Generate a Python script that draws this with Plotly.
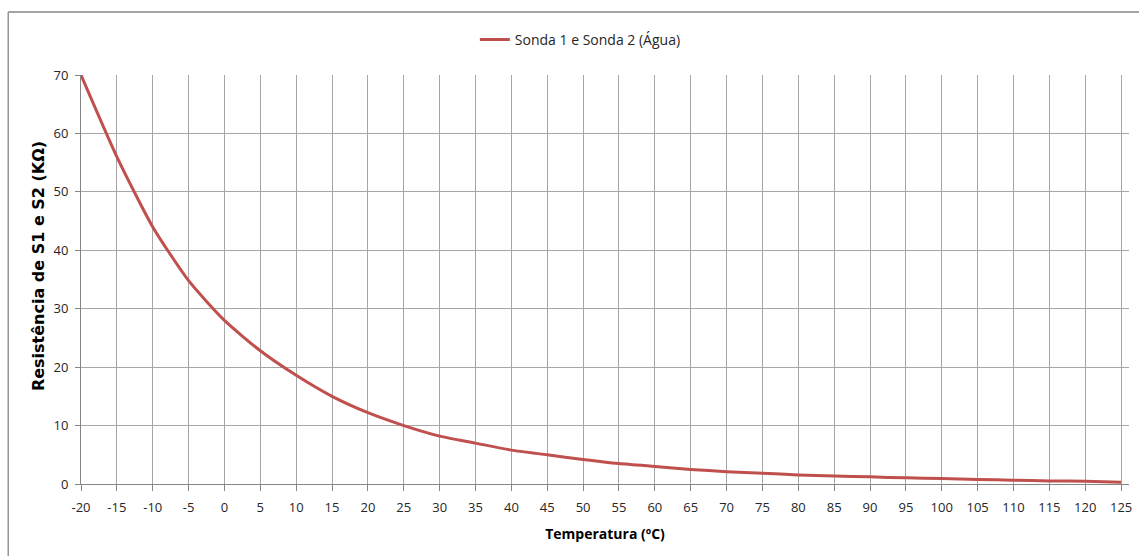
import plotly.graph_objects as go

temperatura = [-20, -15, -10, -5, 0, 5, 10, 15, 20, 25, 30, 35, 40, 45, 50,
               55, 60, 65, 70, 75, 80, 85, 90, 95, 100, 105, 110, 115, 120, 125]
resistencia = [70.0, 56.0, 44.0, 34.8, 28.0, 22.8, 18.6, 15.0, 12.2, 10.0,
               8.2, 7.0, 5.8, 5.0, 4.2, 3.5, 3.0, 2.5, 2.1, 1.85,
               1.55, 1.37, 1.22, 1.05, 0.92, 0.78, 0.66, 0.52, 0.48, 0.32]
x_ticks = list(range(-20, 126, 5))
y_ticks = list(range(0, 71, 10))
serie_nome = "Sonda 1 e Sonda 2 (Água)"
titulo_x = "Temperatura (ºC)"
titulo_y = "Resistência de S1 e S2 (KΩ)"

W, H = 1139, 556
PL, PR, PT, PB = 81, 1132, 75, 484  # plot area in screen pixels
L, R, T, B = PL, W - PR, PT, H - PB

FONT = "'Open Sans', sans-serif"
GRID = "#a6a6a6"
AXIS = "#868686"
TXT = "#262626"

fig = go.Figure()
fig.add_trace(go.Scatter(
    x=temperatura, y=resistencia, mode="lines", name=serie_nome,
    line=dict(color="#C0504D", width=3, shape="spline", smoothing=0.6),
))

def px_x(p):
    return (p - PL) / (PR - PL)

def px_y(p):
    return (PB - p) / (PB - PT)

# chart-area border (top and left edges visible in the reference)
fig.add_shape(type="line", xref="paper", yref="paper",
              x0=px_x(8), x1=px_x(1300), y0=px_y(12), y1=px_y(12),
              line=dict(color=AXIS, width=1.3))
fig.add_shape(type="line", xref="paper", yref="paper",
              x0=px_x(8), x1=px_x(8), y0=px_y(12), y1=px_y(700),
              line=dict(color=AXIS, width=1.3))

fig.add_annotation(xref="paper", yref="paper", x=px_x(38), y=px_y(266),
                   text="<b>" + titulo_y + "</b>", textangle=-90, showarrow=False,
                   xanchor="center", yanchor="middle",
                   font=dict(family="'DejaVu Sans', sans-serif", size=16, color="#000000"))

fig.update_layout(
    width=W, height=H,
    margin=dict(l=L, r=R, t=T, b=B),
    paper_bgcolor="white", plot_bgcolor="white",
    font=dict(family=FONT, size=13, color=TXT),
    showlegend=True,
    legend=dict(orientation="h", x=px_x(476), xanchor="left", y=px_y(40), yanchor="middle",
                font=dict(family=FONT, size=14, color=TXT),
                bgcolor="rgba(0,0,0,0)"),
    xaxis=dict(
        range=[-20, 126.1], tickmode="array", tickvals=x_ticks,
        ticktext=[str(v) for v in x_ticks],
        showgrid=True, gridcolor=GRID, gridwidth=1,
        showline=True, linecolor=AXIS, linewidth=1,
        ticks="outside", ticklen=6, tickcolor=AXIS,
        ticklabelstandoff=5,
        zeroline=False,
        tickfont=dict(family=FONT, size=13, color=TXT),
        title=dict(text="<b>" + titulo_x + "</b>", standoff=14,
                   font=dict(family=FONT, size=14, color="#000000")),
    ),
    yaxis=dict(
        range=[0, 70], tickmode="array", tickvals=y_ticks,
        showgrid=True, gridcolor=GRID, gridwidth=1,
        showline=True, linecolor=AXIS, linewidth=1,
        ticks="outside", ticklen=5, tickcolor=AXIS,
        ticklabelstandoff=4,
        zeroline=False,
        tickfont=dict(family=FONT, size=13, color=TXT),
    ),
)

fig.write_html("out.html", config={"displayModeBar": False},
               post_script="document.body.style.margin='0';document.body.style.overflow='hidden';")
